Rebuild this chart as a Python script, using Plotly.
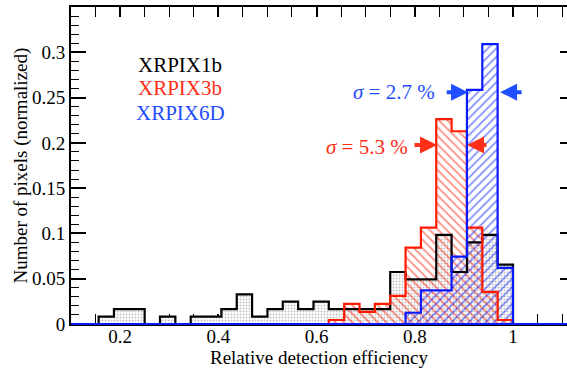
import plotly.graph_objects as go

# Histogram binning: bins of width 1/32 on relative detection efficiency
N_BINS = 32
BIN_WIDTH = 1.0 / N_BINS

# Normalized pixel counts per bin (first bin index given separately)
xrpix1b_first_bin = 5
xrpix1b = [0.0082, 0.0164, 0.0164, 0.0, 0.0082, 0.0, 0.0082, 0.0082, 0.0164,
           0.0328, 0.0082, 0.0164, 0.0246, 0.0164, 0.0246, 0.0164, 0.0164,
           0.0164, 0.0164, 0.0574, 0.0492, 0.0492, 0.0984, 0.0574, 0.0902,
           0.0984, 0.0656]

xrpix3b_first_bin = 20
xrpix3b = [0.0044, 0.0222, 0.0133, 0.0222, 0.0310, 0.0843, 0.1063, 0.2261,
           0.2128, 0.1063, 0.0355, 0.0044]

xrpix6d_first_bin = 25
xrpix6d = [0.0124, 0.0372, 0.0372, 0.0744, 0.2585, 0.3090, 0.0620]

series_names = ["XRPIX1b", "XRPIX3b", "XRPIX6D"]

X_RANGE = [0.1, 1.11]
Y_RANGE = [0.0, 0.35]

BLACK = "#000000"
RED = "#ff1a00"
BLUE = "#0a1aff"
RED_TEXT = "#ff3018"
BLUE_TEXT = "#1f4dff"
FONT = "Liberation Serif"


def centers(first, values):
    return [(first + i + 0.5) * BIN_WIDTH for i in range(len(values))]


def step_outline(first, values, x_lo=None, x_hi=None):
    xs, ys = [], []
    if x_lo is not None:
        xs.append(x_lo)
        ys.append(0.0)
    xs.append(first * BIN_WIDTH)
    ys.append(0.0)
    for i, v in enumerate(values):
        xs += [(first + i) * BIN_WIDTH, (first + i + 1) * BIN_WIDTH]
        ys += [v, v]
    xs.append((first + len(values)) * BIN_WIDTH)
    ys.append(0.0)
    if x_hi is not None:
        xs.append(x_hi)
        ys.append(0.0)
    return xs, ys


fig = go.Figure()

# Filled bars (fill patterns)
fig.add_trace(go.Bar(
    x=centers(xrpix1b_first_bin, xrpix1b), y=xrpix1b, width=BIN_WIDTH,
    marker=dict(color="white", line=dict(width=0),
                pattern=dict(shape=".", fgcolor="#8a8a8a", bgcolor="white",
                             size=3, solidity=0.35)),
    hoverinfo="skip", showlegend=False, name=series_names[0]))
fig.add_trace(go.Bar(
    x=centers(xrpix3b_first_bin, xrpix3b), y=xrpix3b, width=BIN_WIDTH,
    marker=dict(color="rgba(0,0,0,0)", line=dict(width=0),
                pattern=dict(shape="\\", fgcolor=RED, bgcolor="rgba(0,0,0,0)",
                             size=6, solidity=0.3)),
    hoverinfo="skip", showlegend=False, name=series_names[1]))
fig.add_trace(go.Bar(
    x=centers(xrpix6d_first_bin, xrpix6d), y=xrpix6d, width=BIN_WIDTH,
    marker=dict(color="rgba(0,0,0,0)", line=dict(width=0),
                pattern=dict(shape="/", fgcolor=BLUE, bgcolor="rgba(0,0,0,0)",
                             size=6, solidity=0.3)),
    hoverinfo="skip", showlegend=False, name=series_names[2]))

# Step outlines (the blue one runs along zero over the whole axis)
for first, vals, col, full in [(xrpix1b_first_bin, xrpix1b, BLACK, False),
                               (xrpix3b_first_bin, xrpix3b, RED, False),
                               (xrpix6d_first_bin, xrpix6d, BLUE, True)]:
    if full:
        xs, ys = step_outline(first, vals, X_RANGE[0], X_RANGE[1])
    else:
        xs, ys = step_outline(first, vals)
    fig.add_trace(go.Scatter(x=xs, y=ys, mode="lines",
                             line=dict(color=col, width=2.2),
                             hoverinfo="skip", showlegend=False))

# Empty trace carrying the right-hand tick axis
fig.add_trace(go.Scatter(x=[], y=[], yaxis="y2", showlegend=False,
                         hoverinfo="skip"))

# Sample names
for name, col, ypos in [(series_names[0], BLACK, 0.286),
                        (series_names[1], RED_TEXT, 0.2605),
                        (series_names[2], BLUE_TEXT, 0.233)]:
    fig.add_annotation(x=0.322, y=ypos, xref="x", yref="y", text=name,
                       showarrow=False, xanchor="center", yanchor="middle",
                       font=dict(family=FONT, size=21, color=col))

# Width labels
fig.add_annotation(x=0.845, y=0.256, text="<i>σ</i> = 2.7 %", showarrow=False,
                   xanchor="right", yanchor="middle",
                   font=dict(family=FONT, size=21, color=BLUE_TEXT))
fig.add_annotation(x=0.790, y=0.1955, text="<i>σ</i> = 5.3 %", showarrow=False,
                   xanchor="right", yanchor="middle",
                   font=dict(family=FONT, size=21, color=RED_TEXT))

# Arrows marking the widths
arrow_specs = [
    (0.9086, 0.256, 0.862, BLUE_TEXT),
    (0.9737, 0.256, 1.0206, BLUE_TEXT),
    (0.8454, 0.1975, 0.7965, RED_TEXT),
    (0.9065, 0.1975, 0.949, RED_TEXT),
]
for x_tip, y_a, x_tail, col in arrow_specs:
    fig.add_annotation(x=x_tip, y=y_a, ax=x_tail, ay=y_a, xref="x", yref="y",
                       axref="x", ayref="y", text="", showarrow=True,
                       arrowhead=2, arrowsize=0.85, arrowwidth=4,
                       arrowcolor=col, standoff=0, startstandoff=0)

axis_font = dict(family=FONT, size=19, color="black")

# Vertical axis title
fig.add_annotation(x=-0.1028, y=0.5, xref="paper", yref="paper",
                   text="Number of pixels (normalized)", textangle=-90,
                   showarrow=False, xanchor="center", yanchor="middle",
                   font=axis_font)

# Blue zero level of the XRPIX6D histogram drawn over the bottom frame edge
fig.add_shape(type="line", xref="paper", yref="paper", x0=0, x1=1, y0=0, y1=0,
              line=dict(color=BLUE, width=2.2), layer="above")

fig.update_layout(
    width=567, height=372,
    margin=dict(l=71, r=0, t=7, b=48),
    paper_bgcolor="white", plot_bgcolor="white",
    barmode="overlay", bargap=0,
    font=dict(family=FONT, size=19, color="black"),
    xaxis=dict(range=X_RANGE, tick0=0, dtick=0.2, ticks="inside", ticklen=10,
               tickwidth=1.5, tickcolor="black", layer="below traces",
               ticklabelstandoff=-6,
               minor=dict(dtick=0.05, tick0=0, ticks="inside", ticklen=5,
                          tickwidth=1.2, tickcolor="black"),
               showline=True, linecolor="black", linewidth=2, mirror="allticks",
               showgrid=False, zeroline=False, tickfont=axis_font,
               title=dict(text="Relative detection efficiency", font=axis_font,
                          standoff=0)),
    yaxis=dict(range=Y_RANGE, tick0=0, dtick=0.05, ticks="inside", ticklen=15,
               tickwidth=1.5, tickcolor="black",
               minor=dict(dtick=0.01, tick0=0, ticks="inside", ticklen=8,
                          tickwidth=1.2, tickcolor="black"),
               showline=True, linecolor="black", linewidth=2,
               showgrid=False, zeroline=False, tickfont=axis_font),
    yaxis2=dict(range=Y_RANGE, overlaying="y", side="right", anchor="x",
                tick0=0, dtick=0.05, ticks="inside", ticklen=7, tickwidth=1.5,
                tickcolor="black", showticklabels=False, showline=False,
                showgrid=False, zeroline=False),
)

fig.write_html("out.html")
